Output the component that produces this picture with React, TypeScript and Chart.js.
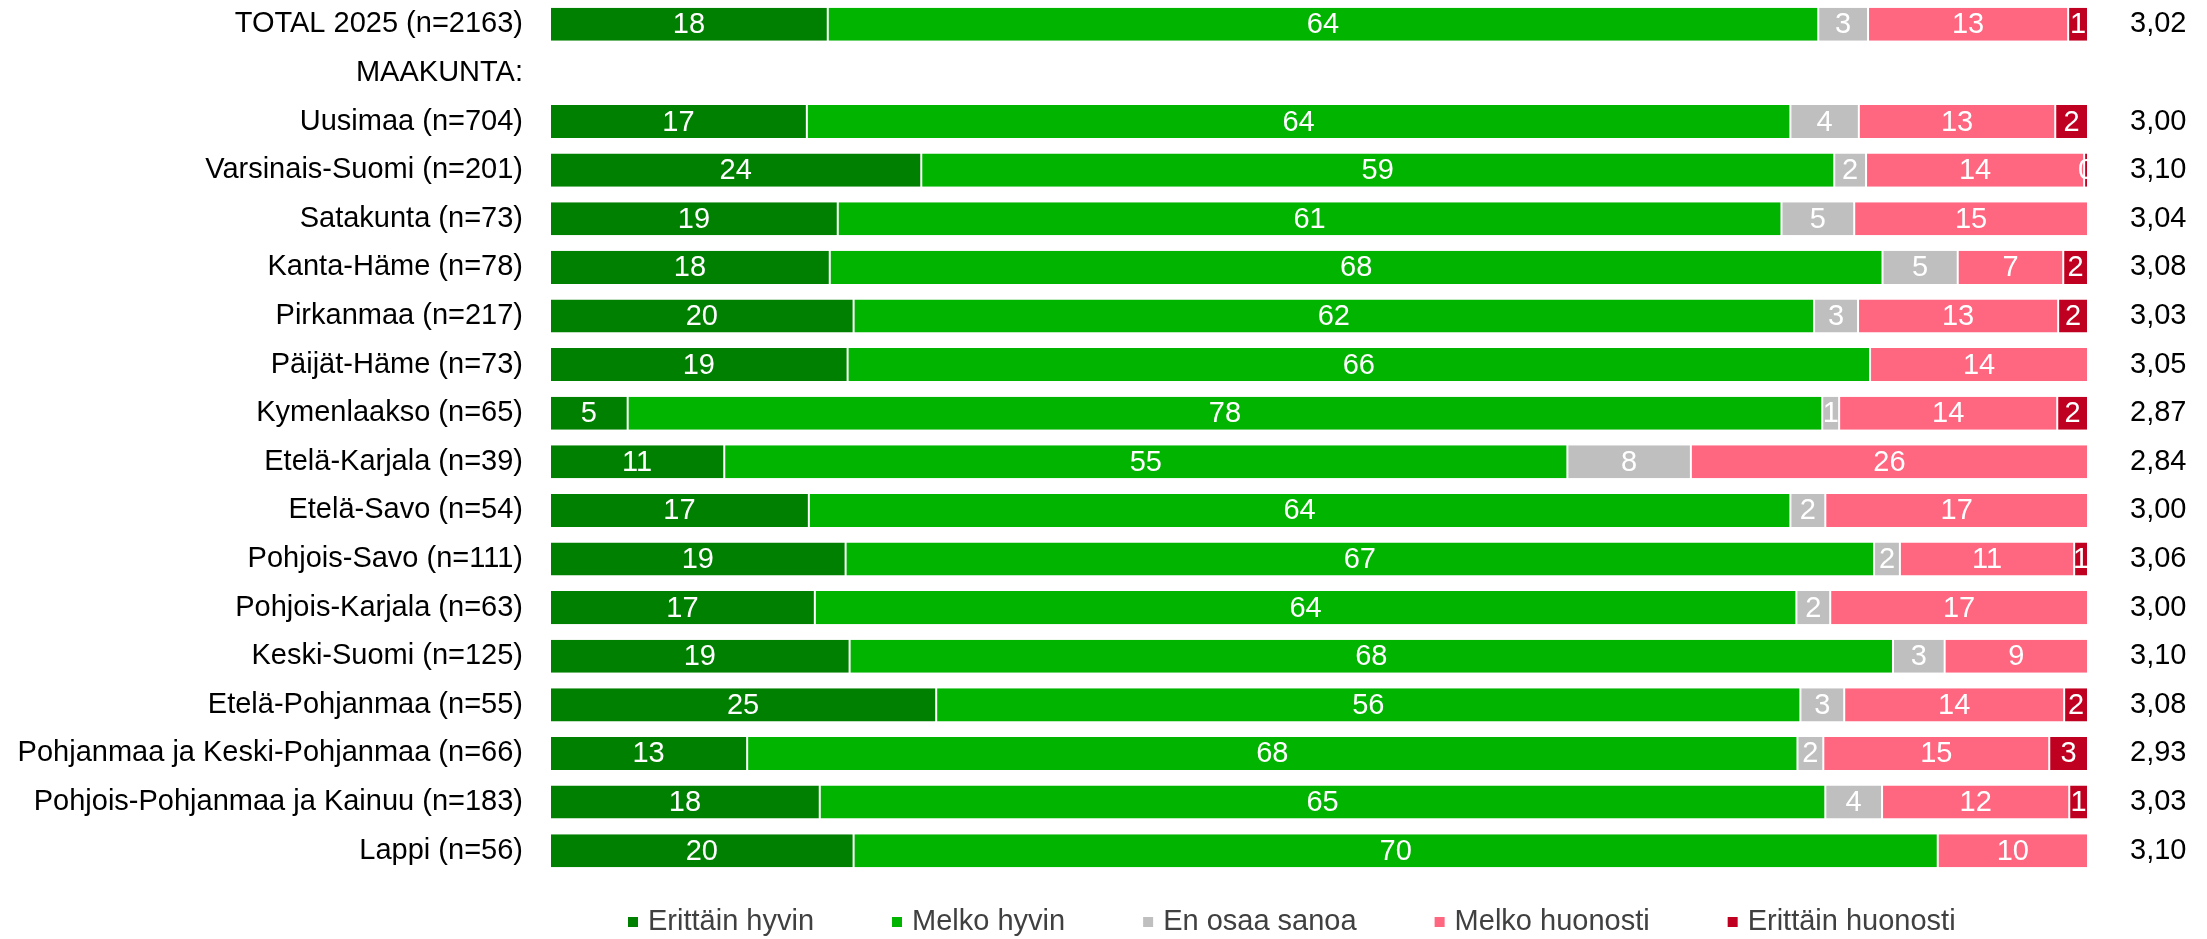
import React, { useEffect, useRef } from "react";
import { Chart, registerables } from "chart.js";

Chart.register(...registerables);

const FONT = "'Liberation Sans', Arial, Helvetica, sans-serif";

const categories = [
  "TOTAL 2025 (n=2163)",
  "MAAKUNTA:",
  "Uusimaa (n=704)",
  "Varsinais-Suomi (n=201)",
  "Satakunta (n=73)",
  "Kanta-Häme (n=78)",
  "Pirkanmaa (n=217)",
  "Päijät-Häme (n=73)",
  "Kymenlaakso (n=65)",
  "Etelä-Karjala (n=39)",
  "Etelä-Savo (n=54)",
  "Pohjois-Savo (n=111)",
  "Pohjois-Karjala (n=63)",
  "Keski-Suomi (n=125)",
  "Etelä-Pohjanmaa (n=55)",
  "Pohjanmaa ja Keski-Pohjanmaa (n=66)",
  "Pohjois-Pohjanmaa ja Kainuu (n=183)",
  "Lappi (n=56)",
];

const seriesNames = ["Erittäin hyvin", "Melko hyvin", "En osaa sanoa", "Melko huonosti", "Erittäin huonosti"];

const erittainHyvin = [18.06, null, 16.7, 24.14, 18.71, 18.19, 19.74, 19.35, 5.05, 11.33, 16.83, 19.22, 17.22, 19.48, 25.11, 12.82, 17.54, 19.74];
const melkoHyvin = [64.4, null, 63.95, 59.36, 61.36, 68.45, 62.45, 66.48, 77.67, 54.82, 63.82, 66.87, 63.82, 67.84, 56.19, 68.29, 65.38, 70.49];
const enOsaaSanoa = [3.24, null, 4.45, 2.07, 4.73, 4.89, 2.86, null, 1.1, 8.03, 2.27, 1.68, 2.2, 3.36, 2.85, 1.68, 3.69, null];
const melkoHuonosti = [13.01, null, 12.77, 14.18, 15.2, 6.86, 13.01, 14.17, 14.18, 25.82, 17.08, 11.33, 16.76, 9.32, 14.3, 14.69, 12.17, 9.77];
const erittainHuonosti = [1.29, null, 2.13, 0.25, null, 1.61, 1.94, null, 2.0, null, null, 0.9, null, null, 1.55, 2.52, 1.22, null];

const meanScores = ["3,02", "", "3,00", "3,10", "3,04", "3,08", "3,03", "3,05", "2,87", "2,84", "3,00", "3,06", "3,00", "3,10", "3,08", "2,93", "3,03", "3,10"];

const seriesColors = ["#008000", "#00B400", "#BFBFBF", "#FF6680", "#C00020"];

const dataLabelPlugin = {
  id: "segmentLabels",
  afterDatasetsDraw(chart: any) {
    const { ctx, chartArea } = chart;
    ctx.save();
    ctx.beginPath();
    ctx.rect(chartArea.left, chartArea.top, chartArea.right - chartArea.left, chartArea.bottom - chartArea.top);
    ctx.clip();
    ctx.font = `29px ${FONT}`;
    ctx.fillStyle = "#FFFFFF";
    ctx.textAlign = "center";
    ctx.textBaseline = "middle";
    chart.data.datasets.forEach((ds: any, di: number) => {
      const meta = chart.getDatasetMeta(di);
      meta.data.forEach((el: any, i: number) => {
        const v = ds.data[i];
        if (v === null || v === undefined) return;
        const { x, base, y } = el.getProps(["x", "base", "y"], true);
        ctx.fillText(String(Math.round(v)), (x + base) / 2, y + 1);
      });
    });
    ctx.restore();
  },
};

const legendPlugin = {
  id: "bottomLegend",
  afterDraw(chart: any) {
    const { ctx } = chart;
    ctx.save();
    ctx.font = `29px ${FONT}`;
    ctx.textBaseline = "middle";
    ctx.textAlign = "left";
    let x = 628;
    const y = 922;
    chart.data.datasets.forEach((ds: any) => {
      ctx.fillStyle = ds.backgroundColor;
      ctx.fillRect(x, y - 5, 10, 10);
      ctx.fillStyle = "#404040";
      ctx.fillText(ds.label, x + 20, y);
      x += 20 + ctx.measureText(ds.label).width + 78;
    });
    ctx.restore();
  },
};

export default function App() {
  const canvasRef = useRef<HTMLCanvasElement | null>(null);

  useEffect(() => {
    if (!canvasRef.current) return;
    const seriesData = [erittainHyvin, melkoHyvin, enOsaaSanoa, melkoHuonosti, erittainHuonosti];
    const chart = new Chart(canvasRef.current, {
      type: "bar",
      data: {
        labels: categories,
        datasets: seriesNames.map((name, i) => ({
          label: name,
          data: seriesData[i],
          backgroundColor: seriesColors[i],
          borderColor: "#FFFFFF",
          borderWidth: { left: 1, right: 1, top: 0, bottom: 0 },
          borderSkipped: false,
          barPercentage: 0.68,
          categoryPercentage: 1,
        })),
      },
      options: {
        indexAxis: "y",
        animation: false,
        responsive: false,
        layout: { padding: { top: -2, bottom: 64, left: 0, right: 0 } },
        plugins: {
          legend: { display: false },
          tooltip: { enabled: false },
        },
        scales: {
          x: {
            stacked: true,
            min: 0,
            max: 100,
            display: false,
          },
          y: {
            stacked: true,
            grid: { display: false, drawTicks: false },
            border: { display: false },
            ticks: {
              font: { size: 29, family: FONT },
              color: "#000000",
              padding: 27,
              autoSkip: false,
            },
            afterFit: (scale: any) => {
              scale.width = 550;
              scale.paddingTop = 0;
              scale.paddingBottom = 0;
            },
          },
          y2: {
            type: "category",
            labels: meanScores,
            position: "right",
            offset: true,
            grid: { display: false, drawTicks: false },
            border: { display: false },
            ticks: {
              font: { size: 29, family: FONT },
              color: "#000000",
              padding: 42,
              autoSkip: false,
            },
            afterFit: (scale: any) => {
              scale.width = 119;
              scale.paddingTop = 0;
              scale.paddingBottom = 0;
            },
          },
        },
      },
      plugins: [dataLabelPlugin, legendPlugin],
    } as any);
    return () => chart.destroy();
  }, []);

  return (
    <div style={{ position: "absolute", left: 0, top: 0, width: 2207, height: 939 }}>
      <canvas ref={canvasRef} width={2207} height={939} style={{ display: "block" }} />
    </div>
  );
}
